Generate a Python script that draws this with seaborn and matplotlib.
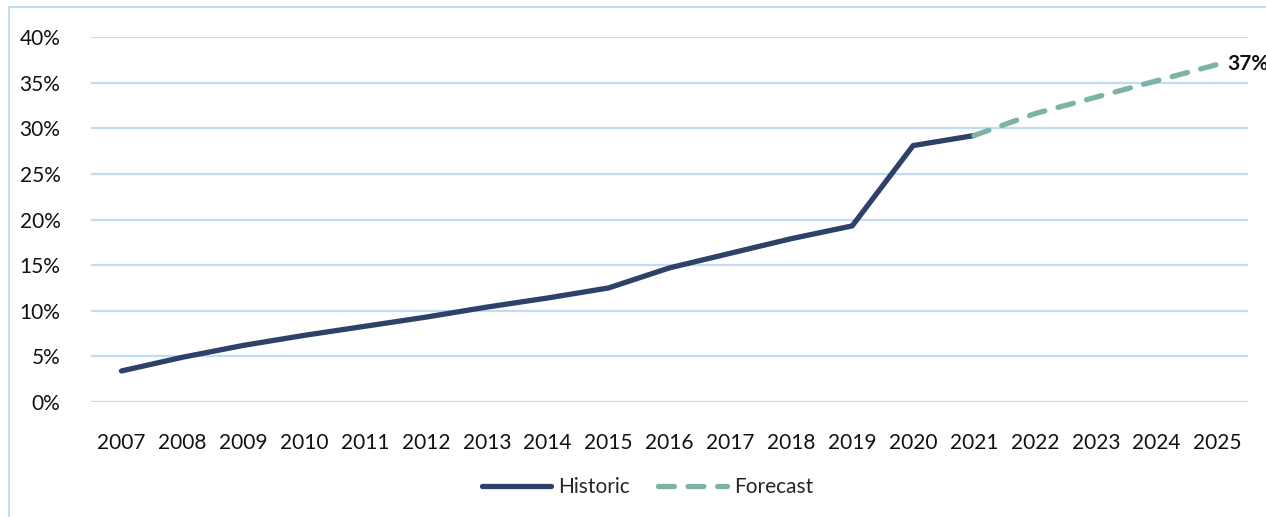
import matplotlib
matplotlib.use("Agg")
import matplotlib.pyplot as plt
import seaborn as sns
import pandas as pd
from matplotlib.patches import Rectangle
from matplotlib.lines import Line2D
from matplotlib.ticker import PercentFormatter

# Data
hist_years = [2007, 2008, 2009, 2010, 2011, 2012, 2013, 2014, 2015, 2016, 2017, 2018, 2019, 2020, 2021]
hist_values = [3.4, 4.9, 6.2, 7.3, 8.3, 9.3, 10.4, 11.4, 12.5, 14.7, 16.3, 17.9, 19.3, 28.1, 29.2]
fc_years = [2021, 2022, 2023, 2024, 2025]
fc_values = [29.2, 31.6, 33.4, 35.2, 37.0]
y_ticks = [0, 5, 10, 15, 20, 25, 30, 35, 40]
series_names = ["Historic", "Forecast"]
end_label = "37%"

NAVY = "#2E4169"
TEAL = "#7DB3A6"
GRID = "#C2DCF5"

sns.set_theme(style="white")
plt.rcParams["font.family"] = ["Lato", "DejaVu Sans"]

fig = plt.figure(figsize=(12.66, 5.17), dpi=100)
ax = fig.add_axes([91/1266, 1-402/517, (1248-91)/1266, (402-37)/517])

df_h = pd.DataFrame({"year": hist_years, "value": [v/100 for v in hist_values]})
df_f = pd.DataFrame({"year": fc_years, "value": [v/100 for v in fc_values]})

sns.lineplot(data=df_h, x="year", y="value", ax=ax, color=NAVY, linewidth=3.8,
             solid_capstyle="round", solid_joinstyle="round", zorder=3)
sns.lineplot(data=df_f, x="year", y="value", ax=ax, color=TEAL, linewidth=3.8,
             dashes=False, zorder=3)
fl = ax.get_lines()[-1]
fl.set_dashes((3.0, 2.6))
fl.set_dash_capstyle("round")

ax.set_xlim(2006.5, 2025.5)
ax.set_ylim(0, 0.40)
ax.set_yticks([t/100 for t in y_ticks])
ax.yaxis.set_major_formatter(PercentFormatter(1.0, decimals=0))
ax.set_xticks(hist_years + fc_years[1:])
ax.set_xticklabels([str(y) for y in hist_years + fc_years[1:]])
ax.tick_params(axis="both", length=0, labelsize=15, colors="#111111")
ax.tick_params(axis="y", pad=22)
ax.tick_params(axis="x", pad=22)
ax.grid(axis="y", color=GRID, linewidth=1.6)
ax.grid(axis="x", visible=False)
for s in ax.spines.values():
    s.set_visible(False)
ax.set_xlabel("")
ax.set_ylabel("")

ax.annotate(end_label, xy=(fc_years[-1], fc_values[-1]/100), xytext=(7, 0),
            textcoords="offset points", ha="left", va="center",
            fontsize=15, fontweight="bold", color="#111111", annotation_clip=False)

handles = [Line2D([0], [0], color=NAVY, lw=3.8, solid_capstyle="round"),
           Line2D([0], [0], color=TEAL, lw=3.8, dashes=(3.0, 2.6), dash_capstyle="round")]
fig.legend(handles, series_names, loc="center", bbox_to_anchor=(648/1266, 1-487/517),
           ncol=2, frameon=False, fontsize=15, handlelength=3.3, columnspacing=1.35,
           handletextpad=0.35)

fig.patches.append(Rectangle((9/1266, -0.1), 1.2, 1.1 - 7/517, transform=fig.transFigure,
                             fill=False, edgecolor=GRID, linewidth=1.5, figure=fig))

fig.savefig("out.png", dpi=100)
